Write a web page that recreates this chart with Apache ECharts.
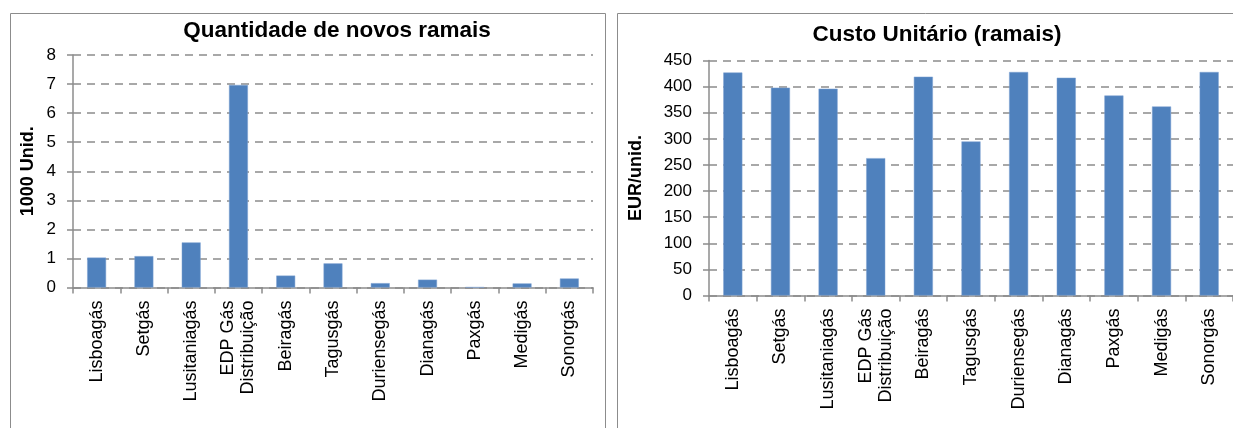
<!DOCTYPE html>
<html>
<head>
<meta charset="utf-8">
<script src="https://cdn.jsdelivr.net/npm/echarts@6/dist/echarts.min.js"></script>
<style>
  html, body { margin: 0; padding: 0; background: #fff; }
  #chart { width: 1233px; height: 428px; }
</style>
</head>
<body>
<div id="chart"></div>
<script>
// categorias (empresas distribuidoras)
const empresas = ["Lisboagás", "Setgás", "Lusitaniagás", "EDP Gás\nDistribuição", "Beiragás",
  "Tagusgás", "Duriensegás", "Dianagás", "Paxgás", "Medigás", "Sonorgás"];
// novos ramais (1000 unid.)
const novosRamais = [1.03, 1.08, 1.55, 6.97, 0.41, 0.83, 0.15, 0.27, 0.01, 0.14, 0.31];
// custo unitário (EUR/unid.)
const custoUnitario = [427, 398, 396, 263, 419, 295, 428, 417, 383, 362, 428];

const cinza = "#8c8c8c";
const azul = "#4F81BD";
const fonte = "Liberation Sans, Arial, sans-serif";

function eixoY(max, intervalo, nome, gap, idx) {
  return {
    type: "value",
    gridIndex: idx,
    min: 0,
    max: max,
    interval: intervalo,
    name: nome,
    nameLocation: "middle",
    nameRotate: 90,
    nameGap: gap,
    nameTextStyle: { fontFamily: fonte, fontSize: 18, fontWeight: "bold", color: "#000" },
    axisLine: { show: true, lineStyle: { color: cinza, width: 1.5 } },
    axisTick: { show: true, length: 6, lineStyle: { color: cinza, width: 1.5 } },
    axisLabel: { fontFamily: fonte, fontSize: 17, color: "#000", margin: 17 },
    splitLine: { show: true, lineStyle: { color: cinza, type: [8, 6], width: 1.5 } }
  };
}

function eixoX(idx) {
  return {
    type: "category",
    gridIndex: idx,
    data: empresas,
    axisLine: { show: true, lineStyle: { color: cinza, width: 1.5 } },
    axisTick: { show: true, length: 6, lineStyle: { color: cinza, width: 1.5 } },
    axisLabel: { interval: 0, rotate: 90, fontFamily: fonte, fontSize: 18, color: "#000", margin: 13, lineHeight: 20 }
  };
}

let myChart = echarts.init(document.getElementById("chart"));
myChart.setOption({
  animation: false,
  graphic: [
    { type: "rect", shape: { x: 10.5, y: 13.5, width: 595, height: 430 }, style: { fill: "none", stroke: cinza, lineWidth: 1 } },
    { type: "rect", shape: { x: 617.5, y: 13.5, width: 630, height: 430 }, style: { fill: "none", stroke: cinza, lineWidth: 1 } },
    { type: "text", x: 337, y: 31, style: { text: "Quantidade de novos ramais", textAlign: "center", textVerticalAlign: "middle",
        font: "bold 22.5px " + fonte, fill: "#000" } },
    { type: "text", x: 937, y: 35, style: { text: "Custo Unitário (ramais)", textAlign: "center", textVerticalAlign: "middle",
        font: "bold 22.5px " + fonte, fill: "#000" } }
  ],
  grid: [
    { left: 73, right: 640, top: 55, bottom: 140.5 },
    { left: 709, right: 0, top: 60.5, bottom: 132.5 }
  ],
  xAxis: [eixoX(0), eixoX(1)],
  yAxis: [eixoY(8, 1, "1000 Unid.", 36, 0), eixoY(450, 50, "EUR/unid.", 64, 1)],
  series: [
    {
      name: "Novos ramais",
      type: "bar",
      xAxisIndex: 0,
      yAxisIndex: 0,
      barWidth: "40%",
      data: novosRamais,
      itemStyle: { color: azul, borderColor: "#7ea3d3", borderWidth: 0.5 }
    },
    {
      name: "Custo unitário",
      type: "bar",
      xAxisIndex: 1,
      yAxisIndex: 1,
      barWidth: "40%",
      data: custoUnitario,
      itemStyle: { color: azul, borderColor: "#7ea3d3", borderWidth: 0.5 }
    }
  ]
});
</script>
</body>
</html>
